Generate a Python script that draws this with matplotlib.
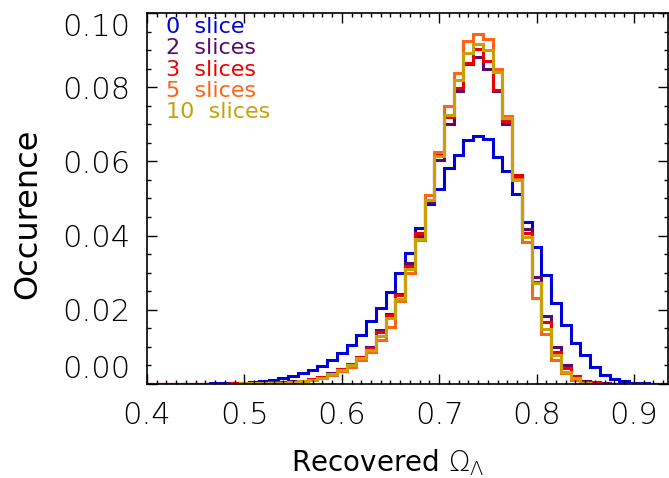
import numpy as np
import matplotlib
matplotlib.use('Agg')
import matplotlib.pyplot as plt

# bin centres of the histograms (bin width 0.01)
centers = np.round(np.arange(0.40, 0.935, 0.01), 2)
edges = np.append(centers - 0.005, centers[-1] + 0.005)

occ_0 = [0.0000, 0.0000, 0.0000, 0.0000, 0.0001, 0.0001, 0.0001, 0.0002, 0.0002, 0.0003,
         0.0004, 0.0006, 0.0008, 0.0011, 0.0015, 0.0022, 0.0029, 0.0037, 0.0049, 0.0065,
         0.0084, 0.0104, 0.0132, 0.0170, 0.0205, 0.0248, 0.0298, 0.0353, 0.0421, 0.0484,
         0.0526, 0.0581, 0.0616, 0.0657, 0.0668, 0.0661, 0.0613, 0.0575, 0.0513, 0.0437,
         0.0368, 0.0293, 0.0217, 0.0159, 0.0111, 0.0078, 0.0047, 0.0024, 0.0013, 0.0008,
         0.0004, 0.0002, 0.0001, 0.0001]
occ_2 = [0.0000, 0.0000, 0.0000, 0.0000, 0.0000, 0.0001, 0.0001, 0.0001, 0.0001, 0.0002,
         0.0002, 0.0003, 0.0004, 0.0005, 0.0006, 0.0007, 0.0009, 0.0014, 0.0020, 0.0029,
         0.0041, 0.0055, 0.0074, 0.0099, 0.0145, 0.0188, 0.0243, 0.0325, 0.0398, 0.0491,
         0.0603, 0.0702, 0.0789, 0.0862, 0.0881, 0.0850, 0.0790, 0.0700, 0.0560, 0.0417,
         0.0289, 0.0183, 0.0099, 0.0051, 0.0022, 0.0009, 0.0005, 0.0002, 0.0001, 0.0000,
         0.0000, 0.0000, 0.0000, 0.0000]
occ_3 = [0.0000, 0.0000, 0.0000, 0.0000, 0.0000, 0.0001, 0.0001, 0.0001, 0.0001, 0.0002,
         0.0002, 0.0003, 0.0004, 0.0005, 0.0006, 0.0006, 0.0009, 0.0013, 0.0019, 0.0028,
         0.0040, 0.0054, 0.0073, 0.0096, 0.0140, 0.0186, 0.0241, 0.0318, 0.0406, 0.0495,
         0.0619, 0.0720, 0.0798, 0.0865, 0.0902, 0.0870, 0.0792, 0.0708, 0.0564, 0.0406,
         0.0275, 0.0168, 0.0087, 0.0042, 0.0021, 0.0006, 0.0005, 0.0001, 0.0000, 0.0000,
         0.0000, 0.0000, 0.0000, 0.0000]
occ_5 = [0.0000, 0.0000, 0.0000, 0.0000, 0.0000, 0.0000, 0.0001, 0.0001, 0.0001, 0.0001,
         0.0002, 0.0002, 0.0003, 0.0003, 0.0004, 0.0004, 0.0007, 0.0011, 0.0016, 0.0024,
         0.0034, 0.0046, 0.0064, 0.0086, 0.0119, 0.0154, 0.0225, 0.0298, 0.0388, 0.0509,
         0.0625, 0.0750, 0.0838, 0.0924, 0.0944, 0.0929, 0.0850, 0.0722, 0.0553, 0.0383,
         0.0231, 0.0136, 0.0065, 0.0029, 0.0011, 0.0002, 0.0001, 0.0000, 0.0000, 0.0000,
         0.0000, 0.0000, 0.0000, 0.0000]
occ_10 = [0.0000, 0.0000, 0.0000, 0.0000, 0.0000, 0.0000, 0.0001, 0.0001, 0.0001, 0.0001,
          0.0002, 0.0002, 0.0003, 0.0004, 0.0004, 0.0005, 0.0008, 0.0012, 0.0017, 0.0026,
          0.0037, 0.0050, 0.0069, 0.0092, 0.0130, 0.0177, 0.0228, 0.0311, 0.0392, 0.0495,
          0.0614, 0.0724, 0.0820, 0.0893, 0.0917, 0.0899, 0.0841, 0.0716, 0.0549, 0.0397,
          0.0271, 0.0147, 0.0078, 0.0033, 0.0015, 0.0002, 0.0001, 0.0000, 0.0000, 0.0000,
          0.0000, 0.0000, 0.0000, 0.0000]

labels = ['0  slice', '2  slices', '3  slices', '5  slices', '10  slices']
colors = ['#0000d8', '#5c0a6a', '#ee0000', '#ff6414', '#c8a00a']
series = [occ_0, occ_2, occ_3, occ_5, occ_10]

plt.rcParams['font.family'] = ['DejaVu Sans']
plt.rcParams['font.weight'] = 'light'
fig = plt.figure(figsize=(6.69, 4.78), dpi=100)
ax = fig.add_axes([147 / 669, 1 - 384 / 478, 521 / 669, 371 / 478])

for vals, col in zip(series, colors):
    ax.stairs(vals, edges, baseline=None, color=col, linewidth=2.2)

ax.set_xlim(0.4, 0.935)
ax.set_ylim(0.0, 0.1)
ax.set_xticks([0.4, 0.5, 0.6, 0.7, 0.8, 0.9])
ax.set_xticks(np.arange(0.40, 0.935, 0.01), minor=True)
ax.set_yticks([0.0, 0.02, 0.04, 0.06, 0.08, 0.10])
ax.set_yticks(np.arange(0.0, 0.1001, 0.005), minor=True)
ax.set_xticklabels(['0.4', '0.5', '0.6', '0.7', '0.8', '0.9'])
ax.set_yticklabels(['0.00', '0.02', '0.04', '0.06', '0.08', '0.10'])
ax.tick_params(which='both', direction='in', top=True, right=True, width=1.0)
ax.tick_params(which='major', length=7, labelsize=22, pad=12)
ax.tick_params(which='minor', length=3.2)
# the end labels sit inside the axis range
ylabs = ax.get_yticklabels()
ylabs[0].set_va('bottom')
ylabs[-1].set_va('top')
for sp in ax.spines.values():
    sp.set_linewidth(1.2)

ax.set_xlabel(r'Recovered $\Omega_\Lambda$', fontsize=20, fontweight='normal')
ax.xaxis.set_label_coords((388 - 147) / 521, -0.17)
ax.set_ylabel('Occurence', fontsize=23, fontweight='normal')
ax.yaxis.set_label_coords(-0.20, 0.46)

for i, (lab, col) in enumerate(zip(labels, colors)):
    ax.text(0.036, 0.962 - i * 0.0575, lab, color=col, fontsize=16, fontweight='normal',
            transform=ax.transAxes, ha='left', va='center')

fig.savefig('out.png', dpi=100)
